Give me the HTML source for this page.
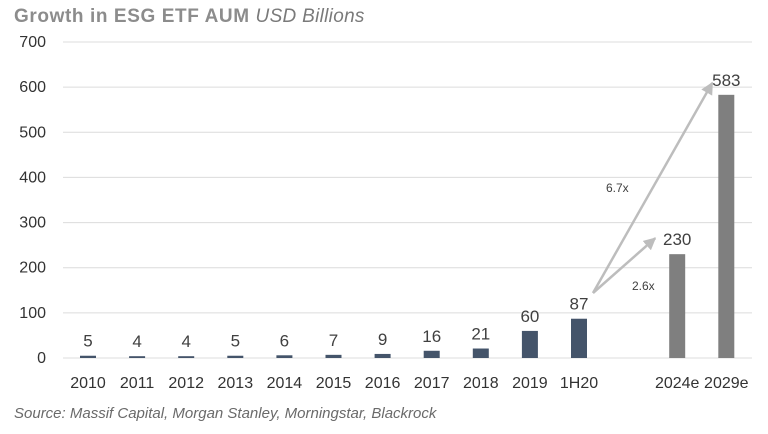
<!DOCTYPE html>
<html><head><meta charset="utf-8"><style>
body{margin:0;background:#fff;width:768px;height:429px;overflow:hidden;font-family:"Liberation Sans",sans-serif}
</style></head><body>
<svg width="768" height="429" id="c">
<text x="14" y="22" font-size="19" font-weight="bold" fill="#8c8c8c" letter-spacing="0.6">Growth in ESG ETF AUM <tspan font-weight="normal" font-style="italic" fill="#7a7a7a" letter-spacing="0.3">USD Billions</tspan></text>
<text x="14" y="418" font-size="15" font-style="italic" fill="#6a6a6a">Source: Massif Capital, Morgan Stanley, Morningstar, Blackrock</text>
<g id="grid"></g><g id="bars"></g>
<defs><marker id="ah" viewBox="0 0 10 10" refX="9" refY="5" markerWidth="5" markerHeight="5" orient="auto"><path d="M0,0L10,5L0,10z" fill="#bdbdbd"/></marker></defs>
</svg>
<script>
const categories=["2010","2011","2012","2013","2014","2015","2016","2017","2018","2019","1H20","","2024e","2029e"];
const values=[5,4,4,5,6,7,9,16,21,60,87,null,230,583];
const projected=[false,false,false,false,false,false,false,false,false,false,false,false,true,true];
const yTicks=[0,100,200,300,400,500,600,700];
const ns="http://www.w3.org/2000/svg";
const y=v=>358-v*(316/700);
const x=i=>88+i*49.1;
function mk(t,a,p){const e=document.createElementNS(ns,t);for(const k in a)e.setAttribute(k,a[k]);p.appendChild(e);return e;}
const g=document.getElementById('grid'),b=document.getElementById('bars'),svg=document.getElementById('c');
yTicks.forEach(t=>{
 const l=mk('line',{x1:63,x2:752,y1:y(t),y2:y(t),stroke:'#dcdcdc','stroke-width':1},g);
 
 
 const tx=mk('text',{x:46,y:y(t)+5,'font-size':16,'text-anchor':'end',fill:'#333'},g);tx.textContent=t;
 
 
});
categories.forEach((c,i)=>{
 if(c){const tx=mk('text',{x:x(i),y:388,'font-size':16,'text-anchor':'middle',fill:'#333'},b);tx.textContent=c;
 
 }
 const v=values[i];if(v==null)return;
 const r=mk('rect',{x:x(i)-8,y:y(v),width:16,height:358-y(v),fill:projected[i]?'#7f7f7f':'#44546a'},b);
 
 
 const lb=mk('text',{x:x(i),y:y(v)-9,'font-size':17,'text-anchor':'middle',fill:'#404040'},b);lb.textContent=v;
 
 
});
const sx=593;
[[12,'2.6x',632,290],[13,'6.7x',606,192]].forEach(([i,t,lx,ly])=>{
 const ex=i==12?x(i)-22:x(i)-14, ey=i==12?y(values[i])-16:y(values[i])-12;
 const l=mk('line',{x1:sx,y1:293,x2:ex,y2:ey,stroke:'#bdbdbd','stroke-width':2.5,'marker-end':'url(#ah)'},svg);
 
 
 const tx=mk('text',{x:lx,y:ly,'font-size':12,fill:'#404040'},svg);tx.textContent=t;
 
 
});
</script>
</body></html>
